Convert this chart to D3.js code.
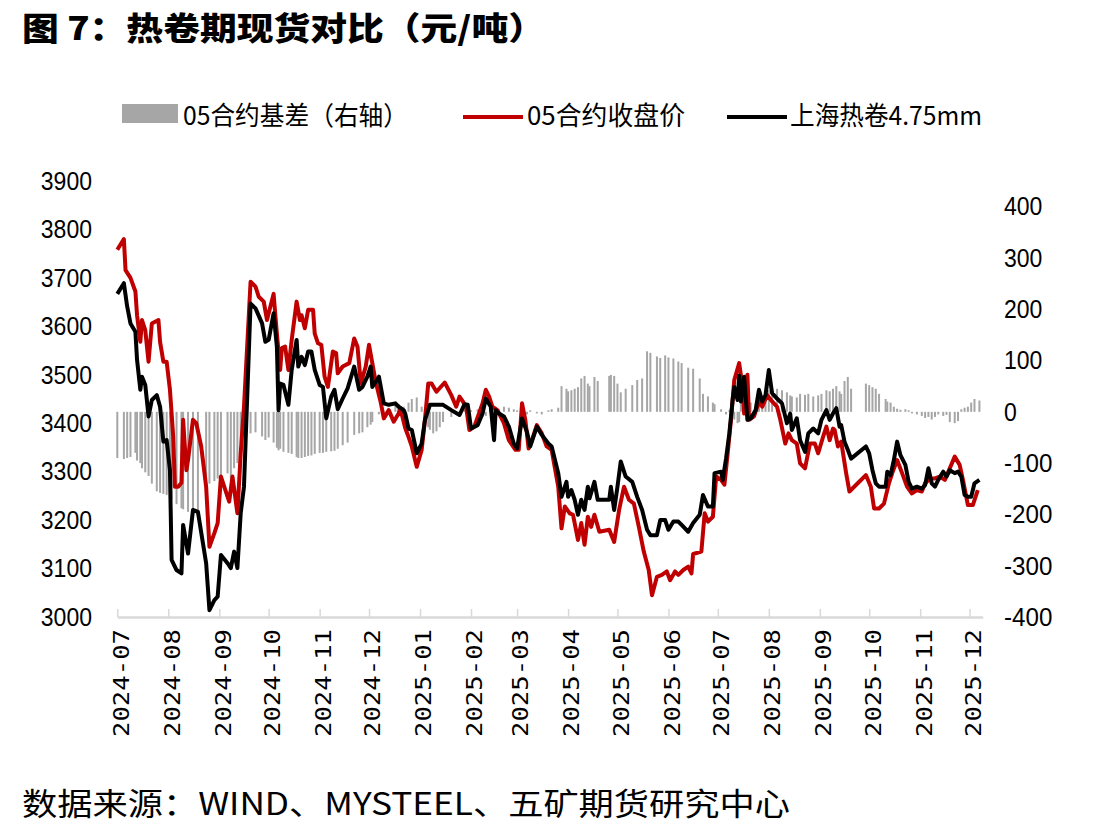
<!DOCTYPE html>
<html>
<head>
<meta charset="utf-8">
<script src="https://cdn.jsdelivr.net/npm/d3@7"></script>
<style>
  body { margin: 0; background: #fff; }
  svg { display: block; }
</style>
</head>
<body>
<svg id="chart" width="1119" height="838"></svg>
<script>
// 上海热卷4.75mm 现货 + 05合约基差（右轴）, same dates
const spotDates = [
  "2024-07-01","2024-07-05","2024-07-07","2024-07-09","2024-07-12","2024-07-13","2024-07-15","2024-07-16","2024-07-18","2024-07-20","2024-07-22","2024-07-25","2024-07-27","2024-07-29","2024-07-31",
  "2024-08-02","2024-08-03","2024-08-06","2024-08-09","2024-08-10","2024-08-13","2024-08-16","2024-08-19","2024-08-24","2024-08-26","2024-08-29","2024-08-31",
  "2024-09-02","2024-09-06","2024-09-08","2024-09-10","2024-09-12","2024-09-14","2024-09-16","2024-09-20","2024-09-23","2024-09-27","2024-09-29",
  "2024-10-01","2024-10-04","2024-10-06","2024-10-07","2024-10-08","2024-10-10","2024-10-13","2024-10-15","2024-10-18","2024-10-19","2024-10-21","2024-10-23","2024-10-25","2024-10-27","2024-10-29",
  "2024-11-01","2024-11-03","2024-11-05","2024-11-08","2024-11-10","2024-11-12","2024-11-15","2024-11-18","2024-11-22","2024-11-25","2024-11-27","2024-11-30",
  "2024-12-02","2024-12-03","2024-12-07","2024-12-10","2024-12-13","2024-12-17","2024-12-19","2024-12-22","2024-12-23","2024-12-25","2024-12-27","2024-12-30",
  "2025-01-02","2025-01-04","2025-01-06","2025-01-07","2025-01-09","2025-01-11","2025-01-13","2025-01-15","2025-01-20","2025-01-25","2025-01-28","2025-01-30",
  "2025-02-01","2025-02-05","2025-02-08","2025-02-10","2025-02-13","2025-02-15","2025-02-16","2025-02-18","2025-02-21","2025-02-24","2025-02-27",
  "2025-03-01","2025-03-04","2025-03-07","2025-03-09","2025-03-13","2025-03-16","2025-03-20","2025-03-22","2025-03-26","2025-03-28","2025-03-31",
  "2025-04-01","2025-04-03","2025-04-05","2025-04-07","2025-04-09","2025-04-11","2025-04-13","2025-04-14","2025-04-17","2025-04-19","2025-04-26","2025-04-27","2025-04-29",
  "2025-05-01","2025-05-03","2025-05-06","2025-05-10","2025-05-13","2025-05-16","2025-05-19","2025-05-21","2025-05-25","2025-05-27","2025-05-30",
  "2025-06-01","2025-06-04","2025-06-07","2025-06-09","2025-06-13","2025-06-16","2025-06-20","2025-06-22","2025-06-25","2025-06-28","2025-06-29",
  "2025-07-03","2025-07-04","2025-07-06","2025-07-08","2025-07-10","2025-07-11","2025-07-13","2025-07-14","2025-07-15","2025-07-17","2025-07-19","2025-07-21","2025-07-24","2025-07-26","2025-07-28","2025-07-30",
  "2025-08-01","2025-08-03","2025-08-06","2025-08-09","2025-08-12","2025-08-14","2025-08-15","2025-08-18","2025-08-20","2025-08-23","2025-08-25","2025-08-28","2025-08-31",
  "2025-09-02","2025-09-05","2025-09-07","2025-09-09","2025-09-11","2025-09-13","2025-09-14","2025-09-16","2025-09-18","2025-09-20","2025-09-29",
  "2025-10-01","2025-10-03","2025-10-05","2025-10-07","2025-10-11","2025-10-12","2025-10-14","2025-10-16","2025-10-18","2025-10-20","2025-10-23","2025-10-25","2025-10-27","2025-10-30",
  "2025-11-02","2025-11-04","2025-11-06","2025-11-08","2025-11-10","2025-11-12","2025-11-15","2025-11-17","2025-11-19","2025-11-22","2025-11-24","2025-11-26","2025-11-28","2025-11-30",
  "2025-12-02","2025-12-04","2025-12-07"
];
const spotPrice = [
  3667,3689,3641,3606,3589,3531,3469,3496,3479,3414,3448,3458,3434,3362,3365,
  3303,3118,3097,3090,3190,3131,3221,3217,3111,3014,3035,3042,
  3128,3111,3101,3135,3101,3214,3269,3647,3637,3606,3568,
  3572,3627,3558,3427,3482,3479,3438,3510,3572,3517,3537,3520,3548,3548,3510,
  3479,3475,3410,3455,3469,3429,3451,3472,3517,3469,3475,3496,
  3517,3475,3496,3441,3438,3441,3434,3427,3420,3389,3386,3338,
  3358,3407,3427,3438,3438,3438,3438,3438,3427,3417,3439,3438,
  3389,3396,3420,3451,3434,3365,3427,3420,3414,3393,3358,
  3348,3410,3382,3352,3393,3376,3358,3352,3297,3248,3279,
  3248,3262,3242,3211,3242,3221,3269,3245,3279,3242,3242,3269,3221,
  3269,3321,3290,3279,3248,3221,3180,3169,3169,3200,3200,
  3180,3197,3197,3190,3176,3194,3211,3252,3228,3228,3297,
  3300,3283,3327,3379,3448,3475,3448,3498,3445,3496,3407,3410,3427,3469,3445,3458,
  3510,3462,3451,3441,3400,3420,3386,3410,3365,3341,3379,3389,3379,
  3407,3427,3407,3420,3431,3393,3396,3362,3345,3327,3352,
  3338,3303,3276,3269,3269,3300,3293,3324,3362,3334,3314,3279,3265,3269,
  3265,3272,3307,3276,3269,3283,3300,3290,3303,3297,3300,3290,3252,3248,
  3248,3276,3283
];
const basisValues = [
  -90,-92,-90,-88,-80,-95,-100,-110,-118,-125,-140,-155,-158,-160,-162,
  -165,-170,-180,-188,-190,-195,-200,-195,-170,-140,-135,-130,
  -125,-120,-130,-110,-100,-60,-45,-42,-40,-48,-55,
  -50,-60,-70,-75,-72,-78,-80,-82,-88,-90,-90,-88,-86,-85,-82,
  -80,-80,-78,-77,-76,-72,-65,-60,-45,-42,-40,-30,
  -25,-20,-5,2,8,12,15,10,5,18,25,28,
  10,0,-30,-35,-42,-38,-30,-20,-10,-5,5,-8,
  3,5,-10,-8,8,-5,6,5,10,8,5,
  3,-8,-5,3,-3,-5,3,5,8,50,45,
  40,42,45,48,65,70,55,50,68,60,70,72,70,
  55,38,45,52,62,65,118,115,108,105,110,
  106,104,98,95,86,84,65,35,30,18,15,
  5,0,-5,3,5,-15,-22,-20,35,25,20,18,15,18,15,20,
  42,40,45,42,38,32,30,28,35,33,35,30,32,
  35,42,40,45,50,40,35,60,68,45,55,
  52,48,45,35,25,20,18,10,6,4,5,3,-3,-5,
  -8,-12,-10,-15,-10,-5,-8,-6,-20,-22,-18,5,8,10,
  18,25,22
];

// 05合约收盘价
const futDates = [
  "2024-07-01","2024-07-05","2024-07-06","2024-07-09","2024-07-12","2024-07-13","2024-07-15","2024-07-16","2024-07-18","2024-07-20","2024-07-22","2024-07-26","2024-07-27","2024-07-29","2024-07-31",
  "2024-08-02","2024-08-04","2024-08-05","2024-08-07","2024-08-09","2024-08-10","2024-08-12","2024-08-13","2024-08-16","2024-08-18","2024-08-21","2024-08-24","2024-08-26","2024-08-29","2024-08-31",
  "2024-09-02","2024-09-04","2024-09-07","2024-09-09","2024-09-12","2024-09-14","2024-09-16","2024-09-20","2024-09-23","2024-09-25","2024-09-28","2024-09-30",
  "2024-10-04","2024-10-06","2024-10-08","2024-10-09","2024-10-11","2024-10-13","2024-10-15","2024-10-18","2024-10-20","2024-10-21","2024-10-23","2024-10-25","2024-10-28","2024-10-29","2024-10-31",
  "2024-11-02","2024-11-04","2024-11-06","2024-11-09","2024-11-11","2024-11-12","2024-11-15","2024-11-19","2024-11-22","2024-11-24","2024-11-26","2024-11-29",
  "2024-12-01","2024-12-03","2024-12-05","2024-12-08","2024-12-10","2024-12-13","2024-12-16","2024-12-19","2024-12-20","2024-12-23","2024-12-25","2024-12-27","2024-12-30",
  "2025-01-02","2025-01-04","2025-01-06","2025-01-08","2025-01-11","2025-01-16","2025-01-20","2025-01-23","2025-01-25","2025-01-27","2025-01-29","2025-01-31",
  "2025-02-03","2025-02-08","2025-02-10","2025-02-12","2025-02-14","2025-02-17","2025-02-21","2025-02-24","2025-02-28",
  "2025-03-02","2025-03-04","2025-03-06","2025-03-08","2025-03-10","2025-03-13","2025-03-16","2025-03-19","2025-03-22","2025-03-26","2025-03-28","2025-03-30",
  "2025-04-02","2025-04-04","2025-04-07","2025-04-09","2025-04-11","2025-04-13","2025-04-15","2025-04-17","2025-04-20","2025-04-26","2025-04-29",
  "2025-05-02","2025-05-05","2025-05-08","2025-05-11","2025-05-14","2025-05-17","2025-05-20","2025-05-22","2025-05-25","2025-05-28","2025-05-31",
  "2025-06-02","2025-06-05","2025-06-07","2025-06-10","2025-06-13","2025-06-15","2025-06-16","2025-06-21","2025-06-23","2025-06-25","2025-06-28","2025-06-30",
  "2025-07-03","2025-07-05","2025-07-07","2025-07-09","2025-07-11","2025-07-14","2025-07-16","2025-07-17","2025-07-19","2025-07-20","2025-07-23","2025-07-26","2025-07-28","2025-07-31",
  "2025-08-03","2025-08-06","2025-08-08","2025-08-11","2025-08-13","2025-08-15","2025-08-18","2025-08-20","2025-08-23","2025-08-26","2025-08-29","2025-08-31",
  "2025-09-03","2025-09-05","2025-09-07","2025-09-09","2025-09-10","2025-09-12","2025-09-14","2025-09-17","2025-09-19","2025-09-29",
  "2025-10-02","2025-10-04","2025-10-07","2025-10-10","2025-10-13","2025-10-15","2025-10-18","2025-10-21","2025-10-24","2025-10-27","2025-10-30",
  "2025-11-02","2025-11-04","2025-11-07","2025-11-10","2025-11-13","2025-11-16","2025-11-19","2025-11-22","2025-11-25","2025-11-27","2025-11-30",
  "2025-12-03","2025-12-06"
];
const futPrice = [
  3758,3780,3716,3700,3672,3623,3568,3613,3592,3527,3606,3613,3568,3527,3527,
  3469,3372,3269,3269,3277,3407,3303,3324,3407,3400,3352,3269,3145,3173,3194,
  3290,3269,3238,3290,3214,3338,3434,3692,3682,3661,3651,3613,
  3667,3585,3510,3555,3558,3510,3572,3651,3613,3623,3596,3634,3634,3585,3565,
  3562,3496,3475,3548,3545,3503,3517,3524,3575,3558,3482,3517,
  3562,3524,3486,3445,3410,3427,3403,3420,3431,3390,3372,3352,3310,
  3345,3407,3482,3482,3465,3484,3458,3434,3455,3445,3434,3386,
  3393,3441,3469,3455,3434,3427,3400,3365,3345,
  3345,3441,3407,3348,3365,3396,3379,3352,3345,3269,3183,3228,
  3214,3211,3159,3194,3149,3207,3186,3211,3176,3180,3155,
  3221,3269,3242,3234,3186,3135,3097,3045,3083,3087,3094,
  3076,3094,3087,3097,3104,3090,3130,3135,3214,3197,3207,3290,
  3283,3273,3338,3407,3489,3524,3475,3420,3500,3407,3414,3445,3434,3458,
  3445,3434,3407,3358,3379,3365,3358,3317,3307,3358,3358,3338,
  3372,3393,3365,3389,3386,3352,3362,3297,3259,3293,
  3269,3224,3224,3234,3276,3297,3324,3297,3269,3255,3262,
  3259,3276,3286,3286,3290,3283,3307,3331,3314,3283,3231,
  3231,3262
];

const monthTicks = ["2024-07","2024-08","2024-09","2024-10","2024-11","2024-12",
  "2025-01","2025-02","2025-03","2025-04","2025-05","2025-06",
  "2025-07","2025-08","2025-09","2025-10","2025-11","2025-12"];
const leftTicks = [3000, 3100, 3200, 3300, 3400, 3500, 3600, 3700, 3800, 3900];
const rightTicks = [-400, -300, -200, -100, 0, 100, 200, 300, 400];
const legendLabels = ["05合约基差（右轴）", "05合约收盘价", "上海热卷4.75mm"];

const titleText = "图 7：热卷期现货对比（元/吨）";
const sourceText = "数据来源：WIND、MYSTEEL、五矿期货研究中心";

if (spotDates.length !== spotPrice.length || spotDates.length !== basisValues.length ||
    futDates.length !== futPrice.length) {
  console.error("length mismatch", spotDates.length, spotPrice.length, basisValues.length, futDates.length, futPrice.length);
}

const svg = d3.select("#chart");
const parseDay = d3.utcParse("%Y-%m-%d");
const parseMonth = d3.utcParse("%Y-%m");

const cjk = "'Noto Sans CJK SC', 'Noto Sans', sans-serif";
const RED = "#c00000";
const GREY = "#a6a6a6";

const x = d3.scaleUtc()
  .domain([parseDay("2024-07-01"), parseDay("2025-12-09")])
  .range([117.3, 982.7]);
const yL = d3.scaleLinear().domain([3000, 3900]).range([617, 181]);
const yR = d3.scaleLinear().domain([-400, 450]).range([617, 181]);

const spot = spotDates.map((d, i) => ({ date: parseDay(d), v: spotPrice[i], b: basisValues[i] }));
const fut = futDates.map((d, i) => ({ date: parseDay(d), v: futPrice[i] }));

// title
svg.append("text")
  .attr("x", 22).attr("y", 40)
  .attr("font-family", cjk)
  .attr("font-weight", 900)
  .attr("font-size", 32)
  .attr("textLength", 523)
  .attr("lengthAdjust", "spacingAndGlyphs")
  .attr("fill", "#000")
  .text(titleText);

// legend
const legend = svg.append("g").attr("font-family", cjk).attr("font-size", 26).attr("fill", "#000");
legend.append("rect").attr("x", 122).attr("y", 104).attr("width", 56).attr("height", 19).attr("fill", GREY);
legend.append("line").attr("x1", 463).attr("x2", 523).attr("y1", 117).attr("y2", 117)
  .attr("stroke", RED).attr("stroke-width", 4);
legend.append("line").attr("x1", 727).attr("x2", 787).attr("y1", 117).attr("y2", 117)
  .attr("stroke", "#000").attr("stroke-width", 4);
const legendPos = [[183, 225], [527, 158], [790, 192]];
legendLabels.forEach((t, i) => {
  legend.append("text")
    .attr("x", legendPos[i][0]).attr("y", 125)
    .attr("textLength", legendPos[i][1])
    .attr("lengthAdjust", "spacingAndGlyphs")
    .text(t);
});

// basis bars (right axis)
svg.append("g")
  .selectAll("rect")
  .data(spot)
  .join("rect")
  .attr("x", d => x(d.date) - 1)
  .attr("width", 2)
  .attr("y", d => yR(Math.max(0, d.b)))
  .attr("height", d => Math.abs(yR(d.b) - yR(0)))
  .attr("fill", GREY);

// x axis
const xAxis = svg.append("g")
  .attr("transform", "translate(0,617)")
  .call(d3.axisBottom(x)
    .tickValues(monthTicks.map(parseMonth))
    .tickSizeInner(-8)
    .tickSizeOuter(0)
    .tickFormat(d3.utcFormat("%Y-%m")));
xAxis.select(".domain").attr("stroke", "#d9d9d9").attr("stroke-width", 2.5);
xAxis.selectAll(".tick line").attr("stroke", "#d9d9d9").attr("stroke-width", 1.5);
xAxis.selectAll(".tick text")
  .attr("x", 0).attr("y", 0).attr("dy", "0.35em")
  .attr("transform", "translate(3.5,12) rotate(-90)")
  .attr("text-anchor", "end")
  .attr("font-family", "'DejaVu Sans Mono', monospace")
  .attr("font-size", 21)
  .attr("textLength", 108)
  .attr("lengthAdjust", "spacingAndGlyphs")
  .attr("fill", "#000");

// left axis
const tickLen = d => String(d).replace("-", "").length * 12.8 + (d < 0 ? 10 : 0);
const leftAxis = svg.append("g")
  .attr("transform", "translate(100,0)")
  .call(d3.axisLeft(yL).tickValues(leftTicks).tickSize(0).tickPadding(8).tickFormat(d => String(d)));
leftAxis.select(".domain").remove();
leftAxis.selectAll(".tick text")
  .attr("font-family", "'Liberation Sans', Arial, sans-serif")
  .attr("font-size", 26)
  .attr("textLength", tickLen)
  .attr("lengthAdjust", "spacingAndGlyphs")
  .attr("fill", "#000");

// right axis
const rightAxis = svg.append("g")
  .attr("transform", "translate(996,0)")
  .call(d3.axisRight(yR).tickValues(rightTicks).tickSize(0).tickPadding(8).tickFormat(d => String(d)));
rightAxis.select(".domain").remove();
rightAxis.selectAll(".tick text")
  .attr("font-family", "'Liberation Sans', Arial, sans-serif")
  .attr("font-size", 26)
  .attr("textLength", tickLen)
  .attr("lengthAdjust", "spacingAndGlyphs")
  .attr("fill", "#000");

// lines
const priceLine = d3.line().x(d => x(d.date)).y(d => yL(d.v));
svg.append("path")
  .datum(fut)
  .attr("d", priceLine)
  .attr("fill", "none")
  .attr("stroke", RED)
  .attr("stroke-width", 4)
  .attr("stroke-linejoin", "round");

svg.append("path")
  .datum(spot)
  .attr("d", priceLine)
  .attr("fill", "none")
  .attr("stroke", "#000")
  .attr("stroke-width", 4)
  .attr("stroke-linejoin", "round");

// source
svg.append("text")
  .attr("x", 22).attr("y", 815)
  .attr("font-family", cjk)
  .attr("font-size", 31)
  .attr("textLength", 768)
  .attr("lengthAdjust", "spacingAndGlyphs")
  .attr("fill", "#000")
  .text(sourceText);
</script>
</body>
</html>
